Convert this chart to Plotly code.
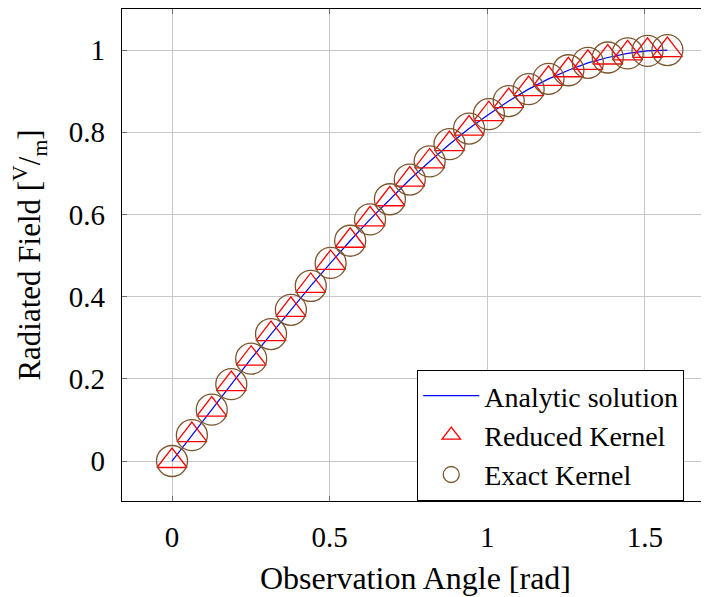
import plotly.graph_objects as go

# Observation angle samples [rad]
angles = [0.0, 0.063, 0.126, 0.188, 0.251, 0.314, 0.377, 0.440, 0.503, 0.565,
          0.628, 0.691, 0.754, 0.817, 0.880, 0.942, 1.005, 1.068, 1.131, 1.194,
          1.257, 1.319, 1.382, 1.445, 1.508, 1.571]
# Field values (analytic / reduced kernel / exact kernel coincide)
analytic = [0.0, 0.063, 0.125, 0.187, 0.249, 0.309, 0.368, 0.426, 0.482, 0.536,
            0.588, 0.637, 0.685, 0.729, 0.771, 0.809, 0.844, 0.876, 0.905, 0.930,
            0.951, 0.969, 0.982, 0.992, 0.998, 1.000]
reduced = [0.0, 0.063, 0.125, 0.187, 0.249, 0.309, 0.368, 0.426, 0.482, 0.536,
           0.588, 0.637, 0.685, 0.729, 0.771, 0.809, 0.844, 0.876, 0.905, 0.930,
           0.951, 0.969, 0.982, 0.992, 0.998, 1.000]
exact = [0.0, 0.063, 0.125, 0.187, 0.249, 0.309, 0.368, 0.426, 0.482, 0.536,
         0.588, 0.637, 0.685, 0.729, 0.771, 0.809, 0.844, 0.876, 0.905, 0.930,
         0.951, 0.969, 0.982, 0.992, 0.998, 1.000]

x_ticks = [0, 0.5, 1, 1.5]
x_ticklabels = ["0", "0.5", "1", "1.5"]
y_ticks = [0, 0.2, 0.4, 0.6, 0.8, 1]
y_ticklabels = ["0", "0.2", "0.4", "0.6", "0.8", "1"]

FONT = "Liberation Serif, Times New Roman, serif"
BROWN = "rgb(125,85,45)"

fig = go.Figure()
fig.add_trace(go.Scatter(
    x=angles, y=analytic, mode="lines", name="Analytic solution",
    line=dict(color="blue", width=1.2),
))
fig.add_trace(go.Scatter(
    x=angles, y=reduced, mode="markers", name="Reduced Kernel",
    marker=dict(symbol="triangle-up-open", size=26, color="red",
                line=dict(color="red", width=1.3)),
))
fig.add_trace(go.Scatter(
    x=angles, y=exact, mode="markers", name="Exact Kernel",
    marker=dict(symbol="circle-open", size=31, color=BROWN,
                line=dict(color=BROWN, width=1.3)),
))

# page body has an 8px margin, so the figure is sized to fit the window
fig.update_layout(
    width=701, height=589,
    margin=dict(l=114, r=0, t=1, b=96, autoexpand=False),
    paper_bgcolor="white", plot_bgcolor="white",
    font=dict(family=FONT, size=29, color="black"),
    showlegend=True,
    legend=dict(
        x=0.503, y=0, xanchor="left", yanchor="bottom",
        bgcolor="white", bordercolor="black", borderwidth=1,
        font=dict(family=FONT, size=28, color="black"),
        tracegroupgap=0, itemwidth=56,
    ),
    xaxis=dict(
        range=[-0.1586, 1.703],
        tickvals=x_ticks, ticktext=x_ticklabels,
        showgrid=True, gridcolor="rgb(200,200,200)", gridwidth=1,
        zeroline=False,
        showline=True, linecolor="black", linewidth=1.2, mirror="ticks",
        ticks="inside", ticklen=5, tickcolor="rgb(110,110,110)", tickwidth=1,
        ticklabelstandoff=10,
        title=dict(text="Observation Angle [rad]", standoff=14,
                   font=dict(family=FONT, size=32)),
    ),
    yaxis=dict(
        range=[-0.0973, 1.1],
        tickvals=y_ticks, ticktext=y_ticklabels,
        showgrid=True, gridcolor="rgb(200,200,200)", gridwidth=1,
        zeroline=False,
        showline=True, linecolor="black", linewidth=1.2, mirror=False,
        ticks="inside", ticklen=5, tickcolor="rgb(110,110,110)", tickwidth=1,
        ticklabelstandoff=10,
        title=dict(text="Radiated Field [<sup>V</sup>/<sub>m</sub>]", standoff=20,
                   font=dict(family=FONT, size=31)),
    ),
)

fig.write_html("out.html")
